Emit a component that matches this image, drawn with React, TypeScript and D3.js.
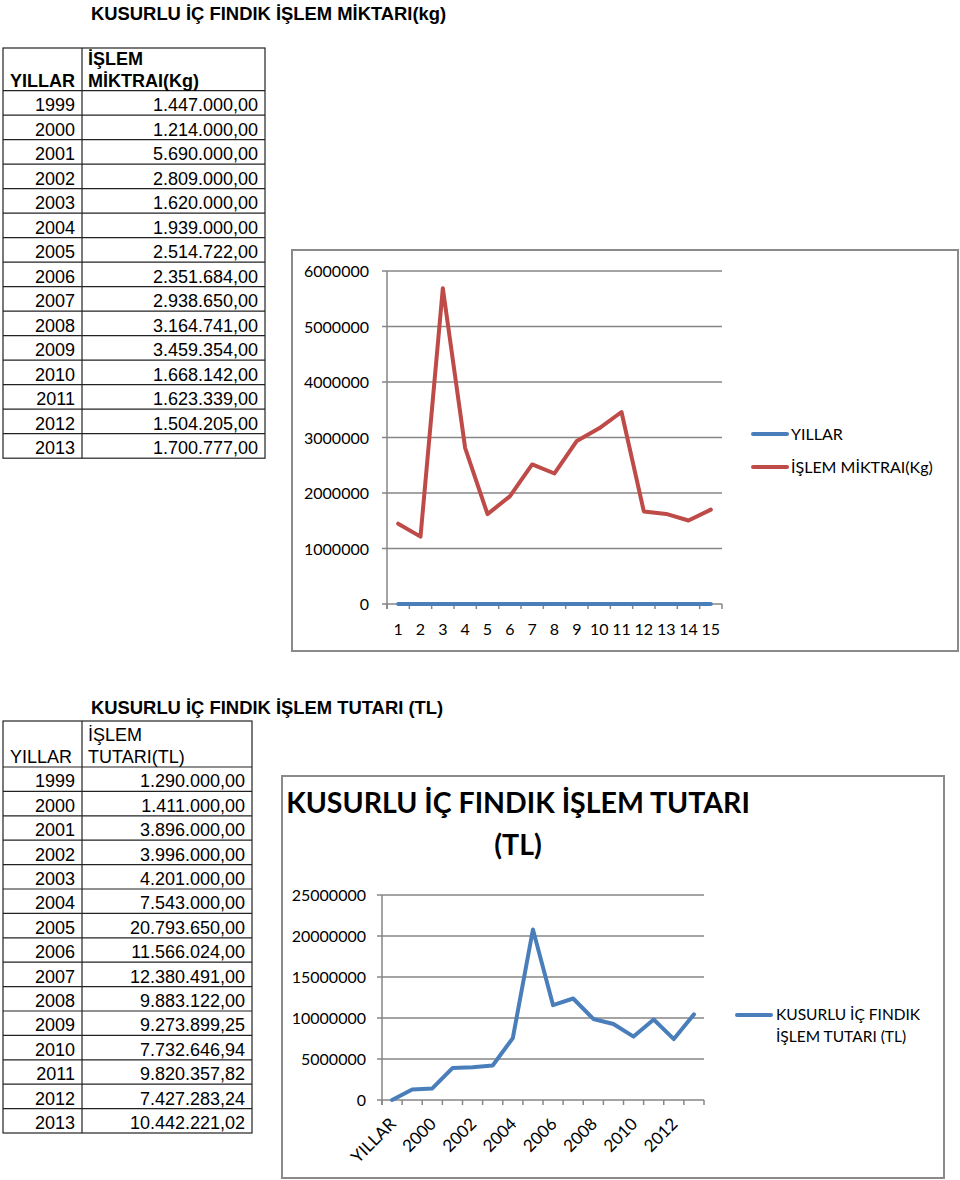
import React from "react";
import * as d3 from "d3";

const years = ["1999","2000","2001","2002","2003","2004","2005","2006","2007","2008","2009","2010","2011","2012","2013"];
const yearValues = [1999,2000,2001,2002,2003,2004,2005,2006,2007,2008,2009,2010,2011,2012,2013];
const miktar = [1447000,1214000,5690000,2809000,1620000,1939000,2514722,2351684,2938650,3164741,3459354,1668142,1623339,1504205,1700777];
const tutar = [1290000,1411000,3896000,3996000,4201000,7543000,20793650,11566024,12380491,9883122,9273899.25,7732646.94,9820357.82,7427283.24,10442221.02];
const chart1Categories = ["1","2","3","4","5","6","7","8","9","10","11","12","13","14","15"];
const chart1Ticks = [0,1000000,2000000,3000000,4000000,5000000,6000000];
const chart2Categories = ["YILLAR", ...years];
const chart2Values = [0, ...tutar];
const chart2Ticks = [0,5000000,10000000,15000000,20000000,25000000];
const chart2LabelIdx = [0,2,4,6,8,10,12,14];

const trLocale = d3.formatLocale({ decimal: ",", thousands: ".", grouping: [3], currency: ["", ""] });
const fmt = trLocale.format(",.2f");

const BLUE = "#4A7EBB";
const RED = "#BE4B48";
const GRID = "#868686";
const CAL = "Lato, 'Open Sans', sans-serif";
const ARIAL = "'Liberation Sans', Arial, sans-serif";

function DataTable({ top, right, headerBottom, rowH, title, titleY, h1, h2, bold, values }: any) {
  const left = 3, div = 82;
  const rows = values.map((v: number, i: number) => ({ y: years[i], v, y0: headerBottom + i * rowH }));
  const bottom = headerBottom + values.length * rowH;
  return (
    <g fontFamily={ARIAL} fill="#000">
      <text x={91} y={titleY} fontSize={18.4} fontWeight="bold">{title}</text>
      <rect x={left} y={top} width={right - left} height={bottom - top} fill="none" stroke="#222" strokeWidth={1.2} />
      <line x1={div} x2={div} y1={top} y2={bottom} stroke="#222" strokeWidth={1.2} />
      <line x1={left} x2={right} y1={headerBottom} y2={headerBottom} stroke="#222" strokeWidth={1.2} />
      {rows.map((r: any, i: number) => (
        <g key={i}>
          {i > 0 && <line x1={left} x2={right} y1={r.y0} y2={r.y0} stroke="#222" strokeWidth={1.2} />}
          <text x={div - 7} y={r.y0 + rowH - 4} fontSize={18} textAnchor="end">{r.y}</text>
          <text x={right - 7} y={r.y0 + rowH - 4} fontSize={18} textAnchor="end">{fmt(r.v)}</text>
        </g>
      ))}
      <text x={10} y={headerBottom - 4} fontSize={18} fontWeight={bold ? "bold" : "normal"}>YILLAR</text>
      <text x={88} y={headerBottom - 26} fontSize={18} fontWeight={bold ? "bold" : "normal"}>{h1}</text>
      <text x={88} y={headerBottom - 4} fontSize={18} fontWeight={bold ? "bold" : "normal"}>{h2}</text>
    </g>
  );
}

function Chart1() {
  const x = d3.scaleBand<number>().domain(d3.range(chart1Categories.length)).range([387, 722]);
  const y = d3.scaleLinear().domain([0, 6000000]).range([604, 271]);
  const line = d3.line<number>().x((_, i) => (x(i) as number) + x.bandwidth() / 2).y((d) => y(d));
  const edges = d3.range(chart1Categories.length + 1).map((i) => 387 + i * x.bandwidth());
  return (
    <g>
      <rect x={292} y={250} width={666} height={401} fill="#fff" stroke="#8a8a8a" strokeWidth={2} />
      {chart1Ticks.map((t) => (
        <g key={t}>
          {t > 0 && <line x1={382} x2={722} y1={y(t)} y2={y(t)} stroke={GRID} strokeWidth={1.5} />}
          <text x={369} y={y(t) + 6} fontSize={16} fontFamily={CAL} textAnchor="end" fill="#000">{t}</text>
        </g>
      ))}
      <line x1={387} x2={387} y1={y(6000000)} y2={609} stroke={GRID} strokeWidth={1.5} />
      <line x1={382} x2={722} y1={y(0)} y2={y(0)} stroke={GRID} strokeWidth={1.5} />
      {edges.map((e, i) => <line key={i} x1={e} x2={e} y1={604} y2={609} stroke={GRID} strokeWidth={1.5} />)}
      {chart1Categories.map((c, i) => (
        <text key={c} x={(x(i) as number) + x.bandwidth() / 2} y={635} fontSize={16} fontFamily={CAL} textAnchor="middle" fill="#000">{c}</text>
      ))}
      <path d={line(yearValues) as string} fill="none" stroke={BLUE} strokeWidth={4} strokeLinejoin="round" strokeLinecap="round" />
      <path d={line(miktar) as string} fill="none" stroke={RED} strokeWidth={4} strokeLinejoin="round" strokeLinecap="round" />
      <line x1={753} x2={787} y1={434} y2={434} stroke={BLUE} strokeWidth={4} strokeLinecap="round" />
      <text x={791} y={440} fontSize={16} fontFamily={CAL} fill="#000">YILLAR</text>
      <line x1={753} x2={787} y1={467} y2={467} stroke={RED} strokeWidth={4} strokeLinecap="round" />
      <text x={791} y={473} fontSize={16} fontFamily={CAL} fill="#000">İŞLEM MİKTRAI(Kg)</text>
    </g>
  );
}

function Chart2() {
  const x = d3.scaleBand<number>().domain(d3.range(chart2Categories.length)).range([382, 704]);
  const y = d3.scaleLinear().domain([0, 25000000]).range([1100, 895]);
  const line = d3.line<number>().x((_, i) => (x(i) as number) + x.bandwidth() / 2).y((d) => y(d));
  const edges = d3.range(chart2Categories.length + 1).map((i) => 382 + i * x.bandwidth());
  return (
    <g>
      <rect x={282} y={776} width={662} height={402} fill="#fff" stroke="#8a8a8a" strokeWidth={2} />
      <text x={518} y={813} fontSize={28.5} fontWeight="bold" fontFamily={CAL} textAnchor="middle" fill="#000">KUSURLU İÇ FINDIK İŞLEM TUTARI</text>
      <text x={518} y={855} fontSize={28.5} fontWeight="bold" fontFamily={CAL} textAnchor="middle" fill="#000">(TL)</text>
      {chart2Ticks.map((t) => (
        <g key={t}>
          {t > 0 && <line x1={377} x2={704} y1={y(t)} y2={y(t)} stroke={GRID} strokeWidth={1.5} />}
          <text x={366} y={y(t) + 6} fontSize={16} fontFamily={CAL} textAnchor="end" fill="#000">{t}</text>
        </g>
      ))}
      <line x1={382} x2={382} y1={y(25000000)} y2={1105} stroke={GRID} strokeWidth={1.5} />
      <line x1={377} x2={704} y1={y(0)} y2={y(0)} stroke={GRID} strokeWidth={1.5} />
      {edges.map((e, i) => <line key={i} x1={e} x2={e} y1={1100} y2={1105} stroke={GRID} strokeWidth={1.5} />)}
      {chart2LabelIdx.map((i) => {
        const cx = (x(i) as number) + x.bandwidth() / 2 + 5;
        const cy = 1125;
        return (
          <text key={i} x={cx} y={cy} fontSize={17} fontFamily={CAL} textAnchor="end" fill="#000" transform={`rotate(-45 ${cx} ${cy})`}>{chart2Categories[i]}</text>
        );
      })}
      <path d={line(chart2Values) as string} fill="none" stroke={BLUE} strokeWidth={4} strokeLinejoin="round" strokeLinecap="round" />
      <line x1={737} x2={771} y1={1015} y2={1015} stroke={BLUE} strokeWidth={4} strokeLinecap="round" />
      <text x={776} y={1020} fontSize={15.5} fontFamily={CAL} fill="#000">KUSURLU İÇ FINDIK</text>
      <text x={776} y={1042} fontSize={15.5} fontFamily={CAL} fill="#000">İŞLEM TUTARI (TL)</text>
    </g>
  );
}

export default function App() {
  return (
    <svg width={960} height={1180} style={{ position: "absolute", left: 0, top: 0, background: "#fff" }}>
      <rect x={0} y={0} width={960} height={1180} fill="#fff" />
      <DataTable top={48} right={265} headerBottom={90.7} rowH={24.5} title="KUSURLU İÇ FINDIK İŞLEM MİKTARI(kg)" titleY={20} h1="İŞLEM" h2="MİKTRAI(Kg)" bold values={miktar} />
      <DataTable top={721} right={252} headerBottom={767} rowH={24.4} title="KUSURLU İÇ FINDIK İŞLEM TUTARI (TL)" titleY={714} h1="İŞLEM" h2="TUTARI(TL)" bold={false} values={tutar} />
      <Chart1 />
      <Chart2 />
    </svg>
  );
}
